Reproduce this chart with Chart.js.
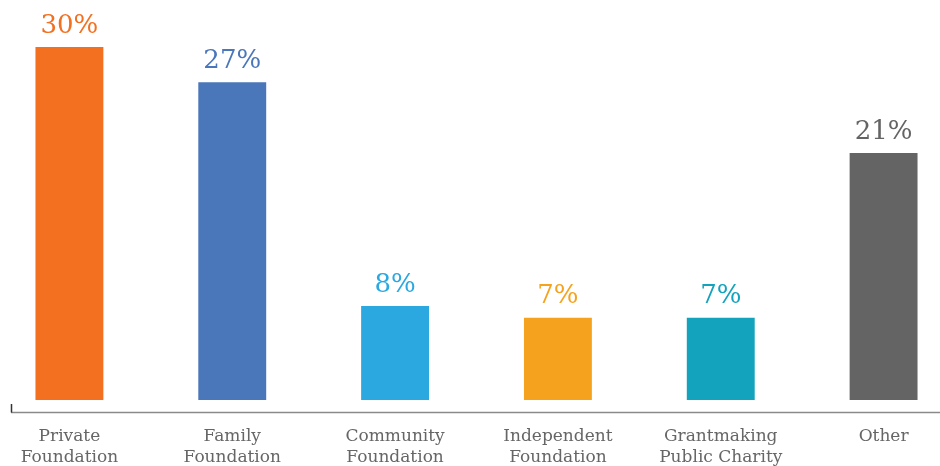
<!DOCTYPE html>
<html>
<head>
<meta charset="utf-8">
<script src="https://cdn.jsdelivr.net/npm/chart.js@4"></script>
<style>
  html, body { margin: 0; padding: 0; background: #fff; overflow: hidden; }
  #wrap { position: absolute; left: -12px; top: 0; width: 977px; height: 466px; }
</style>
</head>
<body>
<div id="wrap"><canvas id="grafico"></canvas></div>
<script>
// ================= DADOS =================

const categorias = [
  ["Private", "Foundation"],
  ["Family", "Foundation"],
  ["Community", "Foundation"],
  ["Independent", "Foundation"],
  ["Grantmaking", "Public Charity"],
  "Other"
];
const valores = [30, 27, 8, 7, 7, 21];
const rotulos = ["30%", "27%", "8%", "7%", "7%", "21%"];
const cores = ["#F37021", "#4A76BA", "#2CA8E0", "#F5A31E", "#13A3BD", "#646464"];

const OFFSET = 12; // canvas começa 12px à esquerda da janela

// ================= PLUGINS =================

const rotulosBarras = {
  id: "rotulosBarras",
  afterDatasetsDraw(chart) {
    const ctx = chart.ctx;
    const meta = chart.getDatasetMeta(0);
    ctx.save();
    ctx.textAlign = "center";
    ctx.textBaseline = "bottom";
    ctx.font = "26px 'DejaVu Serif'";
    meta.data.forEach((bar, i) => {
      ctx.fillStyle = cores[i];
      ctx.fillText(rotulos[i], bar.x, bar.y - 8);
    });
    ctx.restore();
  }
};

const eixo = {
  id: "eixo",
  afterDraw(chart) {
    const ctx = chart.ctx;
    const y = 412.5;
    ctx.save();
    ctx.strokeStyle = "#8a8a8a";
    ctx.lineWidth = 1.5;
    ctx.beginPath();
    ctx.moveTo(11 + OFFSET, y);
    ctx.lineTo(chart.width, y);
    ctx.stroke();
    ctx.strokeStyle = "#333";
    ctx.lineWidth = 1.5;
    ctx.beginPath();
    ctx.moveTo(11.5 + OFFSET, 404);
    ctx.lineTo(11.5 + OFFSET, y);
    ctx.stroke();
    ctx.restore();
  }
};

// ================= GRÁFICO =================

new Chart(document.getElementById("grafico"), {
  type: "bar",
  data: {
    labels: categorias,
    datasets: [{
      data: valores,
      backgroundColor: cores,
      borderWidth: 0,
      categoryPercentage: 1,
      barPercentage: 0.417
    }]
  },
  options: {
    responsive: true,
    maintainAspectRatio: false,
    animation: false,
    layout: { padding: 0 },
    plugins: { legend: { display: false }, tooltip: { enabled: false } },
    scales: {
      y: { display: false, min: 0, max: 34 },
      x: {
        grid: { display: false, drawTicks: false },
        border: { display: false },
        ticks: {
          color: "#666",
          font: { family: "'DejaVu Serif'", size: 17, lineHeight: 1.25 },
          padding: 26,
          maxRotation: 0,
          autoSkip: false
        },
        afterFit: (scale) => { scale.height = 66; }
      }
    }
  },
  plugins: [rotulosBarras, eixo]
});
</script>
</body>
</html>
